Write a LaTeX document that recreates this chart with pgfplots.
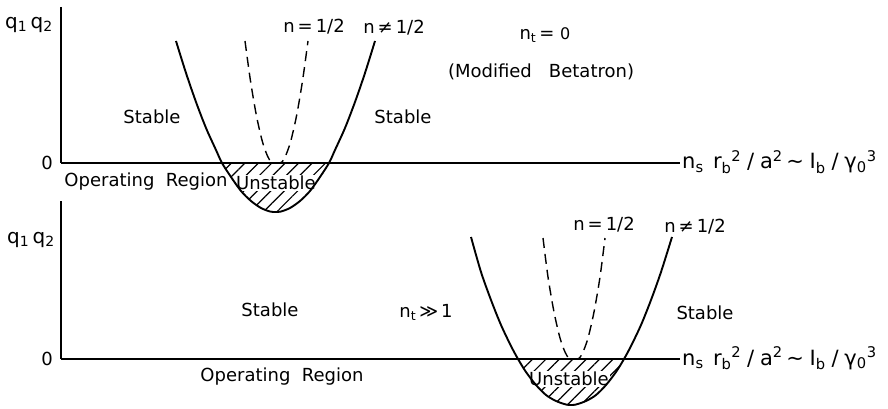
\documentclass[border=0pt]{standalone}
\usepackage{fontspec}
\setmainfont{DejaVu Sans}
\usepackage{pgfplots}
\pgfplotsset{compat=1.18}
\usetikzlibrary{patterns.meta}

\newcommand{\sub}[1]{\textsubscript{#1}}
\newcommand{\sups}[1]{\textsuperscript{#1}}
\newcommand{\xlab}{n\sub{s}\;\,r\sub{b}\sups{2}\;/\;a\sups{2}\,∼\;I\sub{b}\;/\;γ\sub{0}\sups{3}}

\pgfplotsset{
  panel/.style={
    at={(0,0)}, anchor=south west,
    width=888pt, height=408pt, scale only axis,
    xmin=0, xmax=888, hide axis, clip=false,
  },
  curve/.style={black, line width=1.9pt, smooth, tension=0.5},
  halfcurve/.style={black, line width=1.4pt, dash pattern=on 10pt off 6pt, smooth, tension=0.5},
  hatch/.style={draw=none, pattern={Lines[angle=45, distance=9.5pt, line width=1.2pt]}},
  thickaxis/.style={black, line width=2.8pt},
  thinaxis/.style={black, line width=1.4pt},
}
\tikzset{lbl/.style={font=\fontsize{18}{21}\selectfont, inner sep=0pt},
         big/.style={font=\fontsize{20}{24}\selectfont, inner sep=0pt},
         xl/.style={font=\fontsize{21}{24}\selectfont, inner sep=0pt},
         box/.style={lbl, fill=white, inner sep=0.8pt}}

\begin{document}
\begin{tikzpicture}
% ---------------- upper panel: n_t = 0 ----------------
\begin{axis}[panel, ymin=-245, ymax=163]
  % unstable region (q1 q2 < 0)
  \addplot[hatch] coordinates {
    (222,0) (231,-14) (241,-28) (251,-38) (261,-45) (270,-48.5) (275.5,-49)
    (281,-48.5) (290,-45) (300,-38) (310,-28) (320,-14) (329,0)} \closedcycle;
  \node[box] at (axis cs:276,-20) {Unstable};
  % axes
  \addplot[thinaxis] coordinates {(222,0) (680,0)};
  \addplot[thickaxis] coordinates {(61,0) (222,0)};
  \addplot[black, line width=1.9pt] coordinates {(61,156) (61,0)};
  % n != 1/2
  \addplot[curve] coordinates {
    (176,122) (186,90) (196,61) (206,35) (216,13) (222,0) (231,-14) (241,-28)
    (251,-38) (261,-45) (270,-48.5) (275.5,-49) (281,-48.5) (290,-45) (300,-38)
    (310,-28) (320,-14) (329,0) (335,13) (345,35) (355,61) (365,90) (375,122)};
  % n = 1/2
  \addplot[halfcurve] coordinates {
    (245,122) (250.5,82) (256.5,47) (262.5,21) (267.5,7) (271,1) (273,0)
    (280,0) (282,1) (285.5,7) (290.5,21) (296.5,47) (302.5,82) (308,122)};
  % labels
  \node[big] at (axis cs:29,138) {q\sub{1}\,q\sub{2}};
  \node[lbl] at (axis cs:47,0) {0};
  \node[lbl] at (axis cs:152,46) {Stable};
  \node[lbl] at (axis cs:403,46) {Stable};
  \node[lbl] at (axis cs:314,136) {n\,=\,1/2};
  \node[lbl] at (axis cs:394,135) {n\,≠\,1/2};
  \node[lbl, anchor=base] at (axis cs:545,123) {n\sub{t}\,= {\fontsize{16}{18}\selectfont 0}};
  \node[lbl] at (axis cs:541,91) {(Modified\ \ \ Betatron)};
  \node[lbl] at (axis cs:146,-19) {Operating\ \ Region};
  \node[xl, anchor=base west] at (axis cs:682,-6) {\xlab};
\end{axis}
% ---------------- lower panel: n_t >> 1 ----------------
\begin{axis}[panel, ymin=-49, ymax=359]
  \addplot[hatch] coordinates {
    (518,0) (526,-13) (536,-26) (546,-36) (556,-42) (566,-45.5) (571,-46)
    (576,-45.5) (586,-42) (596,-36) (606,-26) (616,-13) (624,0)} \closedcycle;
  \node[box] at (axis cs:569,-20) {Unstable};
  \addplot[thinaxis] coordinates {(518,0) (680,0)};
  \addplot[thickaxis] coordinates {(61,0) (518,0)};
  \addplot[black, line width=1.9pt] coordinates {(61,158) (61,0)};
  \addplot[curve] coordinates {
    (471,122) (481,87) (491,59) (501,34) (511,13) (518,0) (526,-13) (536,-26)
    (546,-36) (556,-42) (566,-45.5) (571,-46) (576,-45.5) (586,-42) (596,-36)
    (606,-26) (616,-13) (624,0) (631,13) (641,34) (651,59) (661,87) (672,122)};
  \addplot[halfcurve] coordinates {
    (543,121) (548,82) (554,47) (560,21) (565,7) (568.5,1) (570.5,0)
    (577.5,0) (579.5,1) (583,7) (588,21) (594,47) (600,82) (605,121)};
  \node[big] at (axis cs:31,119) {q\sub{1}\,q\sub{2}};
  \node[lbl] at (axis cs:47,0) {0};
  \node[lbl] at (axis cs:270,49) {Stable};
  \node[lbl] at (axis cs:426,47) {n\sub{t}\,≫\,1};
  \node[lbl] at (axis cs:705,46) {Stable};
  \node[lbl] at (axis cs:604,134) {n\,=\,1/2};
  \node[lbl] at (axis cs:695,132) {n\,≠\,1/2};
  \node[lbl] at (axis cs:282,-18) {Operating\ \ Region};
  \node[xl, anchor=base west] at (axis cs:682,-6) {\xlab};
\end{axis}
\pgfresetboundingbox
\path (0,0) rectangle (888pt,408pt);
\end{tikzpicture}
\end{document}
